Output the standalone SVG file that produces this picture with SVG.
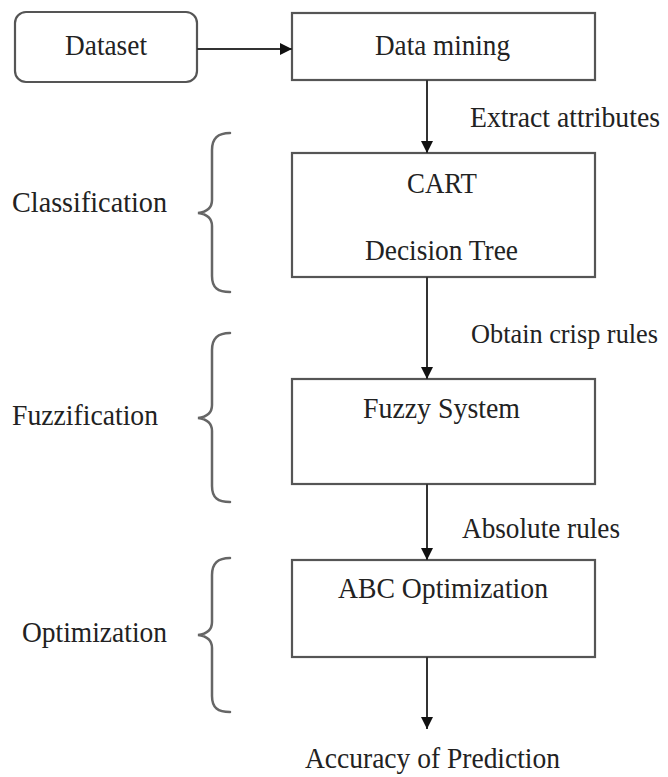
<svg xmlns="http://www.w3.org/2000/svg" width="668" height="777" viewBox="0 0 668 777">
  <style>
    .box { fill: #ffffff; stroke: #555555; stroke-width: 2.2; }
    .lbl { font-family: "Liberation Serif", "Times New Roman", serif; font-size: 29px; fill: #222222; }
    .sm { font-size: 27px; }
    .edge { stroke: #333333; stroke-width: 2; fill: none; }
    .brace { stroke: #666666; stroke-width: 2.5; fill: none; stroke-linecap: round; }
  </style>
  <defs>
    <marker id="arrowL" viewBox="0 0 10 10" refX="10" refY="5" markerWidth="14" markerHeight="12" orient="auto" markerUnits="userSpaceOnUse">
      <path d="M0,0 L10,5 L0,10 Z" fill="#111111"/>
    </marker>
  </defs>

  <rect width="668" height="777" fill="#ffffff"/>

  <!-- nodes -->
  <g id="dataset">
    <rect class="box" x="15" y="12" width="182" height="70" rx="11"/>
    <text class="lbl" x="65" y="55" textLength="82" lengthAdjust="spacingAndGlyphs">Dataset</text>
  </g>
  <g id="data-mining">
    <rect class="box" x="292" y="13" width="303" height="67"/>
    <text class="lbl" x="375" y="55" textLength="135" lengthAdjust="spacingAndGlyphs">Data mining</text>
  </g>
  <g id="cart">
    <rect class="box" x="292" y="153" width="303" height="124"/>
    <text class="lbl" x="407" y="193" textLength="70" lengthAdjust="spacingAndGlyphs">CART</text>
    <text class="lbl" x="365" y="260" textLength="153" lengthAdjust="spacingAndGlyphs">Decision Tree</text>
  </g>
  <g id="fuzzy-system">
    <rect class="box" x="292" y="379" width="303" height="105"/>
    <text class="lbl" x="363" y="418" textLength="157" lengthAdjust="spacingAndGlyphs">Fuzzy System</text>
  </g>
  <g id="abc-optimization">
    <rect class="box" x="292" y="560" width="303" height="97"/>
    <text class="lbl" x="338" y="598" textLength="210" lengthAdjust="spacingAndGlyphs">ABC Optimization</text>
  </g>
  <g id="accuracy">
    <text class="lbl" x="305" y="768" textLength="255" lengthAdjust="spacingAndGlyphs">Accuracy of Prediction</text>
  </g>

  <!-- stage labels with braces -->
  <g id="classification">
    <text class="lbl" x="12" y="212" textLength="155" lengthAdjust="spacingAndGlyphs">Classification</text>
    <path class="brace" d="M230,133 C218,133 212,138 212,150 L212,200 C212,208 206,212 198,213 C206,214 212,218 212,226 L212,276 C212,288 218,292 230,292"/>
  </g>
  <g id="fuzzification">
    <text class="lbl" x="12" y="425" textLength="146" lengthAdjust="spacingAndGlyphs">Fuzzification</text>
    <path class="brace" d="M230,333 C218,333 212,338 212,350 L212,405 C212,413 206,417 198,418 C206,419 212,423 212,431 L212,486 C212,498 218,502 230,502"/>
  </g>
  <g id="optimization">
    <text class="lbl" x="22" y="642" textLength="145" lengthAdjust="spacingAndGlyphs">Optimization</text>
    <path class="brace" d="M230,558 C218,558 212,563 212,575 L212,622 C212,630 206,634 198,635 C206,636 212,640 212,648 L212,696 C212,708 218,712 230,712"/>
  </g>

  <!-- connectors -->
  <g id="connectors">
    <line class="edge" x1="197" y1="49" x2="292" y2="49" marker-end="url(#arrowL)"/>
    <line class="edge" x1="427" y1="80" x2="427" y2="153" marker-end="url(#arrowL)"/>
    <text class="lbl" x="470" y="127" textLength="190" lengthAdjust="spacingAndGlyphs">Extract attributes</text>
    <line class="edge" x1="427" y1="277" x2="427" y2="379" marker-end="url(#arrowL)"/>
    <text class="lbl sm" x="471" y="343" textLength="187" lengthAdjust="spacingAndGlyphs">Obtain crisp rules</text>
    <line class="edge" x1="427" y1="484" x2="427" y2="560" marker-end="url(#arrowL)"/>
    <text class="lbl" x="462" y="538" textLength="158" lengthAdjust="spacingAndGlyphs">Absolute rules</text>
    <line class="edge" x1="427" y1="657" x2="427" y2="729" marker-end="url(#arrowL)"/>
  </g>
</svg>
